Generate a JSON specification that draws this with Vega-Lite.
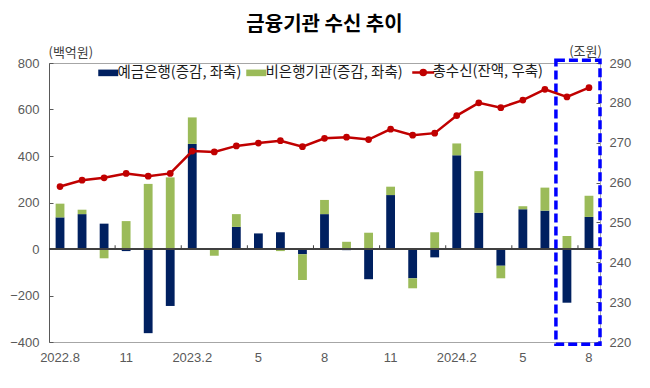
{
  "$schema": "https://vega.github.io/schema/vega-lite/v6.json",
  "width": 551,
  "height": 279,
  "autosize": {"type": "none"},
  "padding": {"left": 49, "top": 63, "right": 50, "bottom": 46},
  "background": "white",
  "title": {"text": "금융기관 수신 추이", "font": "Noto Sans CJK KR", "fontSize": 20, "fontWeight": "bold", "color": "#000000", "anchor": "middle", "offset": 10},
  "config": {
    "view": {"stroke": "#a6a6a6", "strokeWidth": 1},
    "axis": {"labelFont": "Liberation Sans", "labelFontSize": 13, "labelColor": "#595959", "grid": false, "titleFont": "Noto Sans CJK KR", "titleFontSize": 13, "titleColor": "#404040", "titleFontWeight": "normal"}
  },
  "datasets": {
    "flows": [
      {"month": "2022.8", "series": "예금은행(증감, 좌축)", "value": 136}, {"month": "2022.8", "series": "비은행기관(증감, 좌축)", "value": 59},
      {"month": "2022.9", "series": "예금은행(증감, 좌축)", "value": 150}, {"month": "2022.9", "series": "비은행기관(증감, 좌축)", "value": 19},
      {"month": "2022.10", "series": "예금은행(증감, 좌축)", "value": 109}, {"month": "2022.10", "series": "비은행기관(증감, 좌축)", "value": -40},
      {"month": "2022.11", "series": "예금은행(증감, 좌축)", "value": -9}, {"month": "2022.11", "series": "비은행기관(증감, 좌축)", "value": 120},
      {"month": "2022.12", "series": "예금은행(증감, 좌축)", "value": -362}, {"month": "2022.12", "series": "비은행기관(증감, 좌축)", "value": 280},
      {"month": "2023.1", "series": "예금은행(증감, 좌축)", "value": -245}, {"month": "2023.1", "series": "비은행기관(증감, 좌축)", "value": 308},
      {"month": "2023.2", "series": "예금은행(증감, 좌축)", "value": 452}, {"month": "2023.2", "series": "비은행기관(증감, 좌축)", "value": 114},
      {"month": "2023.3", "series": "예금은행(증감, 좌축)", "value": 4}, {"month": "2023.3", "series": "비은행기관(증감, 좌축)", "value": -29},
      {"month": "2023.4", "series": "예금은행(증감, 좌축)", "value": 95}, {"month": "2023.4", "series": "비은행기관(증감, 좌축)", "value": 55},
      {"month": "2023.5", "series": "예금은행(증감, 좌축)", "value": 67}, {"month": "2023.5", "series": "비은행기관(증감, 좌축)", "value": 0},
      {"month": "2023.6", "series": "예금은행(증감, 좌축)", "value": 72}, {"month": "2023.6", "series": "비은행기관(증감, 좌축)", "value": -9},
      {"month": "2023.7", "series": "예금은행(증감, 좌축)", "value": -23}, {"month": "2023.7", "series": "비은행기관(증감, 좌축)", "value": -110},
      {"month": "2023.8", "series": "예금은행(증감, 좌축)", "value": 150}, {"month": "2023.8", "series": "비은행기관(증감, 좌축)", "value": 61},
      {"month": "2023.9", "series": "예금은행(증감, 좌축)", "value": -5}, {"month": "2023.9", "series": "비은행기관(증감, 좌축)", "value": 31},
      {"month": "2023.10", "series": "예금은행(증감, 좌축)", "value": -130}, {"month": "2023.10", "series": "비은행기관(증감, 좌축)", "value": 70},
      {"month": "2023.11", "series": "예금은행(증감, 좌축)", "value": 232}, {"month": "2023.11", "series": "비은행기관(증감, 좌축)", "value": 36},
      {"month": "2023.12", "series": "예금은행(증감, 좌축)", "value": -126}, {"month": "2023.12", "series": "비은행기관(증감, 좌축)", "value": -43},
      {"month": "2024.1", "series": "예금은행(증감, 좌축)", "value": -36}, {"month": "2024.1", "series": "비은행기관(증감, 좌축)", "value": 72},
      {"month": "2024.2", "series": "예금은행(증감, 좌축)", "value": 403}, {"month": "2024.2", "series": "비은행기관(증감, 좌축)", "value": 51},
      {"month": "2024.3", "series": "예금은행(증감, 좌축)", "value": 156}, {"month": "2024.3", "series": "비은행기관(증감, 좌축)", "value": 179},
      {"month": "2024.4", "series": "예금은행(증감, 좌축)", "value": -72}, {"month": "2024.4", "series": "비은행기관(증감, 좌축)", "value": -54},
      {"month": "2024.5", "series": "예금은행(증감, 좌축)", "value": 171}, {"month": "2024.5", "series": "비은행기관(증감, 좌축)", "value": 13},
      {"month": "2024.6", "series": "예금은행(증감, 좌축)", "value": 165}, {"month": "2024.6", "series": "비은행기관(증감, 좌축)", "value": 99},
      {"month": "2024.7", "series": "예금은행(증감, 좌축)", "value": -231}, {"month": "2024.7", "series": "비은행기관(증감, 좌축)", "value": 56},
      {"month": "2024.8", "series": "예금은행(증감, 좌축)", "value": 138}, {"month": "2024.8", "series": "비은행기관(증감, 좌축)", "value": 91}
    ],
    "total": [
      {"month": "2022.8", "total": 259.0}, {"month": "2022.9", "total": 260.6}, {"month": "2022.10", "total": 261.2},
      {"month": "2022.11", "total": 262.3}, {"month": "2022.12", "total": 261.6}, {"month": "2023.1", "total": 262.3},
      {"month": "2023.2", "total": 267.9}, {"month": "2023.3", "total": 267.7}, {"month": "2023.4", "total": 269.2},
      {"month": "2023.5", "total": 269.9}, {"month": "2023.6", "total": 270.5}, {"month": "2023.7", "total": 269.0},
      {"month": "2023.8", "total": 271.1}, {"month": "2023.9", "total": 271.4}, {"month": "2023.10", "total": 270.8},
      {"month": "2023.11", "total": 273.4}, {"month": "2023.12", "total": 271.9}, {"month": "2024.1", "total": 272.4},
      {"month": "2024.2", "total": 276.8}, {"month": "2024.3", "total": 280.0}, {"month": "2024.4", "total": 278.8},
      {"month": "2024.5", "total": 280.7}, {"month": "2024.6", "total": 283.4}, {"month": "2024.7", "total": 281.5},
      {"month": "2024.8", "total": 283.8}
    ],
    "highlight": [{"from": "2024.7", "to": "2024.8"}]
  },
  "layer": [
    {
      "data": {"name": "flows"},
      "layer": [
        {
          "mark": {"type": "bar"},
          "encoding": {
            "x": {
              "field": "month", "type": "ordinal",
              "scale": {"domain": ["2022.8","2022.9","2022.10","2022.11","2022.12","2023.1","2023.2","2023.3","2023.4","2023.5","2023.6","2023.7","2023.8","2023.9","2023.10","2023.11","2023.12","2024.1","2024.2","2024.3","2024.4","2024.5","2024.6","2024.7","2024.8"], "paddingInner": 0.6, "paddingOuter": 0.3},
              "axis": {
                "title": null, "ticks": false, "domain": true, "domainColor": "#a6a6a6", "labelAngle": 0, "labelPadding": 9, "labelOverlap": false,
                "labelExpr": "indexof(['2022.8','2023.2','2024.2'], datum.value) >= 0 ? datum.value : (indexof(['2022.11','2023.5','2023.8','2023.11','2024.5','2024.8'], datum.value) >= 0 ? split(datum.value, '.')[1] : '')"
              }
            },
            "y": {
              "field": "value", "type": "quantitative", "stack": "zero",
              "scale": {"domain": [-400, 800], "nice": false, "zero": false},
              "axis": {"title": "(백억원)", "titleAngle": 0, "titleAlign": "left", "titleBaseline": "middle", "titleX": -1, "titleY": -11,
                       "values": [-400, -200, 0, 200, 400, 600, 800], "labelOverlap": false, "tickSize": -4, "tickColor": "#595959", "domainColor": "#595959", "labelPadding": 14}
            },
            "color": {
              "field": "series", "type": "nominal",
              "scale": {"domain": ["예금은행(증감, 좌축)", "비은행기관(증감, 좌축)", "총수신(잔액, 우축)"], "range": ["#002060", "#9BBB59", "#C00000"]},
              "legend": {
                "orient": "none", "legendX": 52, "legendY": 2, "direction": "horizontal", "title": null, "padding": 0,
                "labelFont": "Noto Sans CJK KR", "labelFontSize": 14.5, "labelColor": "#1a1a1a", "symbolSize": 400, "labelOffset": 2, "columnPadding": 4,
                "encode": {"symbols": {"update": {
                  "shape": {"signal": "datum.value === '총수신(잔액, 우축)' ? 'M-1.1,0H1.1M-0.25,0A0.25,0.25 0 1,0 0.25,0A0.25,0.25 0 1,0 -0.25,0' : 'M-1,-0.33H1V0.33H-1Z'"},
                  "fill": {"signal": "scale('color', datum.value)"},
                  "stroke": {"signal": "scale('color', datum.value)"},
                  "strokeWidth": {"signal": "datum.value === '총수신(잔액, 우축)' ? 2.5 : 0"},
                  "opacity": {"value": 1}, "fillOpacity": {"value": 1}
                }}}
              }
            },
            "order": {"field": "series", "sort": "descending"}
          }
        },
        {"mark": {"type": "rule", "color": "#404040", "strokeWidth": 1.2}, "encoding": {"y": {"datum": 0}}},
        {
          "data": {"name": "total"},
          "transform": [{"filter": "indexof(['2022.11','2023.2','2023.5','2023.8','2023.11','2024.2','2024.5','2024.8'], datum.month) >= 0"}],
          "mark": {"type": "rule", "color": "#404040", "strokeWidth": 1},
          "encoding": {"x": {"field": "month", "type": "ordinal", "bandPosition": -0.75}, "y": {"datum": 0}, "y2": {"datum": 16}}
        },
        {
          "data": {"name": "highlight"},
          "mark": {"type": "rect", "filled": false, "stroke": "#0000FF", "strokeWidth": 3.5, "strokeDash": [9, 4]},
          "encoding": {
            "x": {"field": "from", "type": "ordinal", "bandPosition": -0.75},
            "x2": {"field": "to", "bandPosition": 1.75},
            "y": {"datum": -410},
            "y2": {"datum": 812}
          }
        }
      ]
    },
    {
      "data": {"name": "total"},
      "layer": [
        {
          "mark": {"type": "line", "strokeWidth": 2.5},
          "encoding": {
            "x": {"field": "month", "type": "ordinal"},
            "y": {"field": "total", "type": "quantitative", "scale": {"domain": [220, 290], "nice": false, "zero": false},
                  "axis": {"orient": "right", "title": "(조원)", "titleAngle": 0, "titleAlign": "center", "titleBaseline": "middle", "titleX": -15, "titleY": -12,
                           "values": [220, 230, 240, 250, 260, 270, 280, 290], "tickCount": 8, "labelOverlap": false, "tickSize": -4, "tickColor": "#595959", "domainColor": "#a6a6a6", "labelPadding": 13}},
            "color": {"datum": "총수신(잔액, 우축)", "type": "nominal"}
          }
        },
        {
          "mark": {"type": "point", "filled": true, "size": 45, "opacity": 1},
          "encoding": {
            "x": {"field": "month", "type": "ordinal"},
            "y": {"field": "total", "type": "quantitative"},
            "color": {"datum": "총수신(잔액, 우축)", "type": "nominal"}
          }
        }
      ]
    }
  ],
  "resolve": {"scale": {"y": "independent"}}
}
